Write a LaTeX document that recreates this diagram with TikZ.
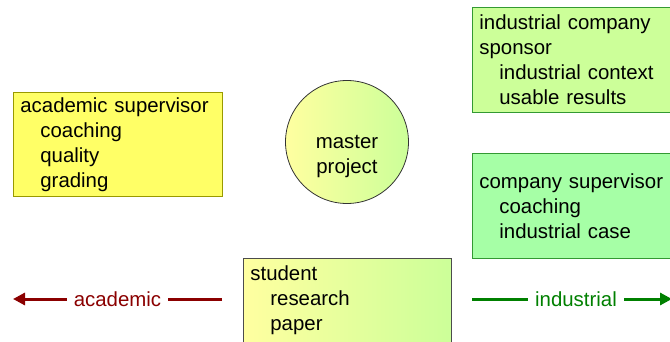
\documentclass[tikz,border=0pt]{standalone}
\usepackage{fontspec}
\setmainfont{Liberation Sans}
\usetikzlibrary{arrows.meta}
\definecolor{acadfill}{RGB}{255,255,102}
\definecolor{acadline}{RGB}{153,153,0}
\definecolor{sponsfill}{RGB}{204,255,153}
\definecolor{greenline}{RGB}{51,153,51}
\definecolor{supfill}{RGB}{166,255,166}
\definecolor{gradleft}{RGB}{255,255,160}
\definecolor{gradright}{RGB}{204,255,153}
\definecolor{acadred}{RGB}{139,0,0}
\definecolor{indgreen}{RGB}{0,128,0}
\begin{document}
\begin{tikzpicture}[x=1pt,y=-1pt,
  every node/.style={font=\fontsize{20.4}{25}\selectfont},
  box/.style={draw, rectangle, align=left, inner xsep=7pt, inner ysep=0pt, anchor=north west, line width=0.8pt},
  flow/.style={line width=3pt, -{Triangle[length=12pt,width=12pt]}},
  flowlabel/.style={fill=white, inner xsep=7pt, inner ysep=2pt}]
\useasboundingbox (0,0) rectangle (670,342);
\node[box, fill=acadfill, draw=acadline, text width=195pt, minimum height=104pt] (acad) at (13,92)
  {academic supervisor\\\hspace*{20pt}coaching\\\hspace*{20pt}quality\\\hspace*{20pt}grading};
\node[box, fill=sponsfill, draw=greenline, text width=200pt, minimum height=105pt] (spons) at (472,7)
  {industrial company\\sponsor\\\hspace*{20pt}industrial context\\\hspace*{20pt}usable results};
\node[box, fill=supfill, draw=greenline, text width=200pt, minimum height=105pt] (csup) at (472,153)
  {company supervisor\\\hspace*{20pt}coaching\\\hspace*{20pt}industrial case};
\node[box, left color=gradleft, right color=gradright, draw=black!70, text width=194pt, minimum height=84pt] (stud) at (243,258)
  {student\\\hspace*{20pt}research\\\hspace*{20pt}paper};
\node[circle, draw=black!80, line width=0.8pt, minimum size=123pt, left color=gradleft, right color=gradright] (proj) at (347,142) {};
\node[align=center] (projtext) at (347,157) {master\\project};
\coordinate (acadstart) at (222,299);
\coordinate (acadend) at (13,299);
\coordinate (indstart) at (472,299);
\coordinate (indend) at (672,299);
\draw[flow, acadred] (acadstart) -- node[flowlabel, text=acadred] (acadlabel) {academic} (acadend);
\draw[flow, indgreen] (indstart) -- node[flowlabel, text=indgreen, pos=0.52] (indlabel) {industrial} (indend);
\end{tikzpicture}
\end{document}
